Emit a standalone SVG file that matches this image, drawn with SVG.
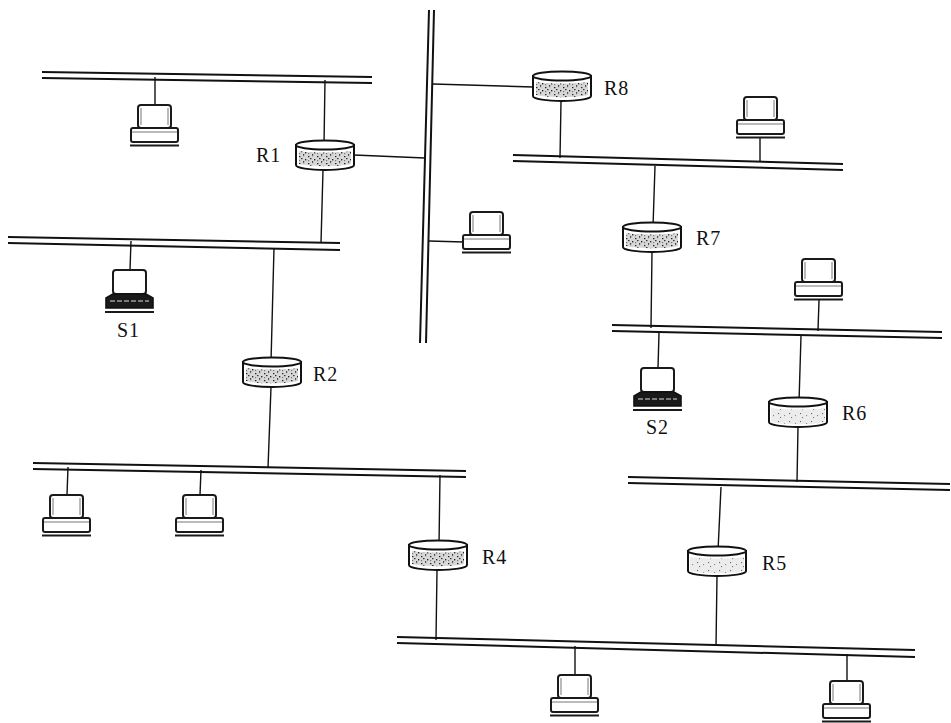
<svg xmlns="http://www.w3.org/2000/svg" width="951" height="723" viewBox="0 0 951 723">
<style>
.bus{fill:none;stroke:#111;stroke-width:2}
.ln{fill:none;stroke:#111;stroke-width:1.4}
.lbl{font-family:"Liberation Serif","Times New Roman",serif;font-size:20px;fill:#111;letter-spacing:1px}
.rb{stroke:#111;stroke-width:2;fill:#fff}
.k{fill:#fff;stroke:#1a1a1a;stroke-width:2}
.kd{fill:#1a1a1a;stroke:#111;stroke-width:1.6}
.kl{fill:none;stroke:#777;stroke-width:1}
</style>
<defs>
<pattern id="sp" width="9" height="7" patternUnits="userSpaceOnUse">
<rect width="9" height="7" fill="#d8d8d8"/>
<rect x="1" y="1" width="1.4" height="1.2" fill="#222"/><rect x="5" y="0" width="1.2" height="1.2" fill="#666"/><rect x="3" y="3" width="1.5" height="1.2" fill="#333"/><rect x="7" y="4" width="1.3" height="1.4" fill="#222"/><rect x="1" y="5" width="1.2" height="1.2" fill="#777"/><rect x="5" y="6" width="1.2" height="1" fill="#444"/>
</pattern>
<pattern id="sl" width="11" height="8" patternUnits="userSpaceOnUse">
<rect width="11" height="8" fill="#ececec"/>
<rect x="2" y="1" width="1.1" height="1.1" fill="#666"/><rect x="8" y="3" width="1.1" height="1.1" fill="#888"/><rect x="4" y="5" width="1.1" height="1.1" fill="#777"/>
</pattern>
<g id="router">
<path class="rb" d="M-29,-10V10C-29,13 -15,15 0,15S29,13 29,10V-10Z"/>
<path fill="url(#sp)" d="M-26,-4C-15,-2 15,-2 26,-4V9C15,12 -15,12 -26,9Z"/>
<ellipse class="rb" cx="0" cy="-10" rx="29" ry="4.5"/>
</g>
<g id="routerL">
<path class="rb" d="M-29,-10V10C-29,13 -15,15 0,15S29,13 29,10V-10Z"/>
<path fill="url(#sl)" d="M-27,-4C-15,-2 15,-2 27,-4V10C15,13 -15,13 -27,10Z"/>
<ellipse class="rb" cx="0" cy="-10" rx="29" ry="4.5"/>
</g>
<g id="pc">
<rect class="k" x="-17" y="0" width="33" height="23" rx="3"/>
<path class="kl" d="M-14,3V20M13,3V20"/>
<rect class="k" x="-24" y="23" width="47" height="14" rx="2"/>
<path class="kl" d="M-23,27H22"/>
<path class="k" d="M-25,40.500H24"/>
</g>
<g id="pcd">
<rect class="k" x="-17" y="0" width="33" height="24" rx="3"/>
<path class="kd" d="M-17,24L-24,28V38H23V28L16,24Z"/>
<path d="M-20,31H19" stroke="#ddd" stroke-width="1" stroke-dasharray="5 2"/>
<path class="k" d="M-25,42H24"/>
</g>
</defs>

<g id="connectors">
<path class="bus" d="M42,72L372,77M42,78L372,83"/>
<path class="bus" d="M8,237L340,243M8,243L340,250"/>
<path class="bus" d="M429,10L420,343M434,10L426,343"/>
<path class="bus" d="M513,155L843,164M513,161L843,170"/>
<path class="bus" d="M612,325L942,332M612,331L942,338"/>
<path class="bus" d="M628,477L950,484M628,483L950,490"/>
<path class="bus" d="M33,463L466,471M33,469L466,477"/>
<path class="bus" d="M397,637L915,650M397,643L915,657"/>
<path class="ln" d="M155,77V105"/>
<path class="ln" d="M325,80L324,145M323,170L321,243"/>
<path class="ln" d="M354,155L425,158"/>
<path class="ln" d="M433,84L533,87"/>
<path class="ln" d="M561,101L560,158"/>
<path class="ln" d="M760,138V162"/>
<path class="ln" d="M429,241L464,242"/>
<path class="ln" d="M655,166L653,227M652,252L651,328"/>
<path class="ln" d="M131,241L130,270"/>
<path class="ln" d="M274,248L271,362M271,387L268,468"/>
<path class="ln" d="M819,300L818,331"/>
<path class="ln" d="M659,333L658,368"/>
<path class="ln" d="M801,336L799,402M798,427L797,482"/>
<path class="ln" d="M721,487L718,551M717,576L716,646"/>
<path class="ln" d="M68,467L67,495"/>
<path class="ln" d="M201,470L200,495"/>
<path class="ln" d="M440,475L439,545M437,570L436,640"/>
<path class="ln" d="M575,646V675"/>
<path class="ln" d="M847,654V681"/>
</g>

<g id="pc-top"><use href="#pc" x="155" y="105"/></g>
<g id="pc-right-top"><use href="#pc" x="761" y="97"/></g>
<g id="pc-center"><use href="#pc" x="487" y="212"/></g>
<g id="pc-right-mid"><use href="#pc" x="819" y="259"/></g>
<g id="pc-left-1"><use href="#pc" x="67" y="495"/></g>
<g id="pc-left-2"><use href="#pc" x="200" y="495"/></g>
<g id="pc-bottom-1"><use href="#pc" x="575" y="675"/></g>
<g id="pc-bottom-2"><use href="#pc" x="847" y="681"/></g>
<g id="S1"><use href="#pcd" x="130" y="270"/><text class="lbl" x="117" y="337">S1</text></g>
<g id="S2"><use href="#pcd" x="658" y="368"/><text class="lbl" x="646" y="434">S2</text></g>
<g id="R1"><use href="#router" x="325" y="155"/><text class="lbl" x="256" y="162">R1</text></g>
<g id="R2"><use href="#router" x="272" y="372"/><text class="lbl" x="313" y="381">R2</text></g>
<g id="R4"><use href="#router" x="438" y="555"/><text class="lbl" x="482" y="564">R4</text></g>
<g id="R5"><use href="#routerL" x="717" y="561"/><text class="lbl" x="762" y="570">R5</text></g>
<g id="R6"><use href="#routerL" x="798" y="412"/><text class="lbl" x="842" y="420">R6</text></g>
<g id="R7"><use href="#router" x="652" y="237"/><text class="lbl" x="696" y="245">R7</text></g>
<g id="R8"><use href="#router" x="562" y="86"/><text class="lbl" x="604" y="95">R8</text></g>
</svg>
